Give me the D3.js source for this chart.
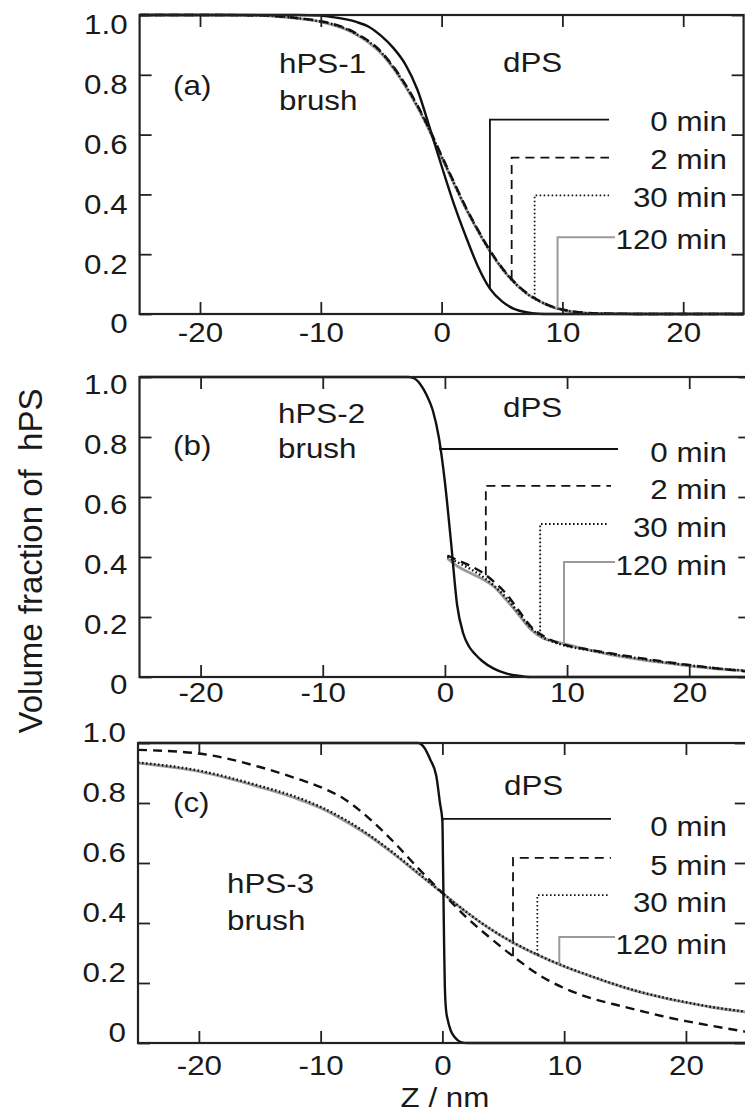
<!DOCTYPE html>
<html>
<head>
<meta charset="utf-8">
<script src="https://cdn.jsdelivr.net/npm/d3@7/dist/d3.min.js"></script>
<style>
  body { margin: 0; background: #fff; }
  text { font-family: "Liberation Sans", Arial, sans-serif; fill: #1a1a1a; }
</style>
</head>
<body>
<div id="chart"></div>
<script>
// ---- data ----
var zTicks = [-20, -10, 0, 10, 20];
var phiTicks = [0, 0.2, 0.4, 0.6, 0.8, 1.0];

// panel (a) hPS-1
var zA = [-25, -20, -15, -14, -12, -10, -9, -8, -7, -6, -5, -4, -3, -2, -1, 0, 1, 2, 3, 4, 5, 6, 7, 8, 9, 10, 11, 12, 14, 17, 20, 25];
var a0 = [1, 1, 1, 1, 1, 0.998, 0.993, 0.986, 0.976, 0.96, 0.93, 0.89, 0.835, 0.75, 0.625, 0.495, 0.37, 0.26, 0.16, 0.085, 0.042, 0.017, 0.006, 0.001, 0, 0, 0, 0, 0, 0, 0, 0];
var a2 = [1, 1, 0.999, 0.997, 0.99, 0.979, 0.97, 0.957, 0.937, 0.912, 0.877, 0.828, 0.768, 0.698, 0.618, 0.53, 0.443, 0.358, 0.282, 0.213, 0.155, 0.108, 0.072, 0.046, 0.027, 0.015, 0.008, 0.004, 0.001, 0, 0, 0];
var a30 = [1, 1, 0.999, 0.997, 0.99, 0.978, 0.969, 0.955, 0.935, 0.91, 0.875, 0.825, 0.765, 0.695, 0.615, 0.527, 0.44, 0.355, 0.28, 0.211, 0.153, 0.106, 0.07, 0.045, 0.026, 0.014, 0.007, 0.003, 0.001, 0, 0, 0];
var a120 = [1, 1, 0.999, 0.996, 0.989, 0.977, 0.967, 0.953, 0.933, 0.907, 0.872, 0.822, 0.762, 0.692, 0.612, 0.524, 0.438, 0.353, 0.278, 0.21, 0.152, 0.106, 0.07, 0.045, 0.026, 0.014, 0.007, 0.003, 0.001, 0, 0, 0];

// panel (b) hPS-2
var zB0 = [-25, -10, -3, -2.5, -2, -1.5, -1, -0.5, 0, 0.5, 1, 1.5, 2, 2.5, 3, 4, 5, 6, 7, 10, 25];
var b0 = [1, 1, 1, 0.995, 0.975, 0.94, 0.89, 0.8, 0.65, 0.45, 0.24, 0.145, 0.1, 0.075, 0.055, 0.028, 0.012, 0.004, 0, 0, 0];
var zB = [0.2, 1, 2, 3, 4, 5, 6, 7, 8, 9, 10, 12, 14, 16, 18, 20, 22, 25];
var b2 = [0.405, 0.39, 0.372, 0.35, 0.318, 0.278, 0.224, 0.17, 0.138, 0.118, 0.105, 0.09, 0.076, 0.063, 0.051, 0.04, 0.03, 0.017];
var b30 = [0.4, 0.383, 0.362, 0.337, 0.305, 0.265, 0.215, 0.165, 0.133, 0.115, 0.103, 0.088, 0.074, 0.061, 0.049, 0.039, 0.03, 0.02];
var b120 = [0.395, 0.37, 0.348, 0.328, 0.302, 0.258, 0.21, 0.16, 0.13, 0.118, 0.108, 0.088, 0.071, 0.058, 0.047, 0.037, 0.028, 0.02];

// panel (c) hPS-3
var zC0 = [-25, -10, -2, -1.5, -1, -0.5, -0.2, 0, 0.05, 0.1, 0.15, 0.2, 0.3, 0.45, 0.7, 1, 1.3, 1.6, 2, 25];
var c0 = [1, 1, 1, 0.985, 0.945, 0.89, 0.8, 0.74, 0.6, 0.45, 0.3, 0.19, 0.11, 0.075, 0.04, 0.02, 0.008, 0.002, 0, 0];
var zC = [-25, -20, -15, -12, -10, -8, -6, -4, -2, 0, 2, 4, 6, 8, 10, 12, 14, 16, 18, 20, 22, 25];
var c5 = [0.977, 0.965, 0.92, 0.882, 0.853, 0.812, 0.748, 0.67, 0.583, 0.5, 0.418, 0.348, 0.283, 0.225, 0.183, 0.152, 0.13, 0.11, 0.09, 0.073, 0.058, 0.037];
var c30 = [0.935, 0.908, 0.857, 0.82, 0.787, 0.745, 0.693, 0.633, 0.567, 0.5, 0.436, 0.379, 0.331, 0.291, 0.256, 0.226, 0.198, 0.173, 0.153, 0.136, 0.121, 0.104];
var c120 = [0.933, 0.905, 0.853, 0.815, 0.783, 0.74, 0.69, 0.63, 0.565, 0.5, 0.435, 0.378, 0.33, 0.29, 0.255, 0.225, 0.197, 0.172, 0.152, 0.135, 0.12, 0.103];

// legend labels, where each leader touches its curve (z) and legend row (phi)
var labelsAB = ["0 min", "2 min", "30 min", "120 min"];
var labelsC = ["0 min", "5 min", "30 min", "120 min"];
var anchorA = [4, 5.8, 7.7, 9.6], legendA = [0.65, 0.523, 0.397, 0.257];
var anchorB = [-0.4, 3.35, 7.8, 9.75], legendB = [0.76, 0.637, 0.51, 0.383];
var anchorC = [0, 5.8, 7.8, 9.6], legendC = [0.747, 0.617, 0.493, 0.353];

// ---- layout ----
var W = 745, H = 1113;
var STRETCH = 1.12; // the scan is a bit wider than tall
var styles = [
  { stroke: "#111", width: 2.4, dash: null },
  { stroke: "#111", width: 2.4, dash: "9,6" },
  { stroke: "#111", width: 2.4, dash: "1.6,2.4" },
  { stroke: "#9a9a9a", width: 2.8, dash: null }
];

var panels = [
  {
    id: "a", top: 15, bottom: 314, xr: [139.6, 743.6], yLabDy: 9, xLabDy: 18, legDy: 2,
    series: [[zA, a0], [zA, a2], [zA, a30], [zA, a120]],
    labels: labelsAB, anchor: anchorA, legend: legendA, leaderEnd: [609, 609, 609, 615],
    texts: [["(a)", 173, 85], ["hPS-1", 279, 63], ["brush", 279, 100], ["dPS", 503, 62]]
  },
  {
    id: "b", top: 377, bottom: 677, xr: [139.5, 750.3], yLabDy: 7, xLabDy: 15, legDy: 3,
    series: [[zB0, b0], [zB, b2], [zB, b30], [zB, b120]],
    labels: labelsAB, anchor: anchorB, legend: legendB, leaderEnd: [618, 611, 609, 615],
    texts: [["(b)", 173, 445], ["hPS-2", 278, 413], ["brush", 278, 448], ["dPS", 503, 407]]
  },
  {
    id: "c", top: 743, bottom: 1043, xr: [138, 746.8], yLabDy: -11, xLabDy: 22, legDy: 7,
    series: [[zC0, c0], [zC, c5], [zC, c30], [zC, c120]],
    labels: labelsC, anchor: anchorC, legend: legendC, leaderEnd: [611, 611, 609, 615],
    texts: [["(c)", 173, 802], ["hPS-3", 227, 883], ["brush", 227, 920], ["dPS", 504, 785]]
  }
];

function valueAt(zs, vs, z) {
  var i = d3.bisectLeft(zs, z);
  if (i <= 0) return vs[0];
  if (i >= zs.length) return vs[vs.length - 1];
  var t = (z - zs[i - 1]) / (zs[i] - zs[i - 1]);
  return vs[i - 1] + t * (vs[i] - vs[i - 1]);
}

function label(g, x, y, str, anchor, size) {
  return g.append("text")
    .attr("transform", "translate(" + x + "," + y + ") scale(" + STRETCH + ",1)")
    .attr("dy", "0.35em")
    .attr("text-anchor", anchor || "start")
    .style("font-size", (size || 28) + "px")
    .text(str);
}

var svg = d3.select("#chart").append("svg")
  .attr("width", W)
  .attr("height", H);

svg.append("rect").attr("width", W).attr("height", H).attr("fill", "#fff");

panels.forEach(function (p) {
  var x = d3.scaleLinear().domain([-25, 25]).range(p.xr);
  var y = d3.scaleLinear().domain([0, 1]).range([p.bottom, p.top]);
  var g = svg.append("g").attr("class", "panel-" + p.id);

  g.append("clipPath").attr("id", "clip-" + p.id)
    .append("rect")
    .attr("x", p.xr[0]).attr("y", p.top - 2)
    .attr("width", p.xr[1] - p.xr[0]).attr("height", p.bottom - p.top + 4);

  // curves: gray under, solid on top
  var line = d3.line()
    .x(function (d) { return x(d[0]); })
    .y(function (d) { return y(d[1]); })
    .curve(d3.curveMonotoneX);

  [3, 2, 1, 0].forEach(function (k) {
    var s = p.series[k], st = styles[k];
    var pts = s[0].map(function (z, i) { return [z, s[1][i]]; });
    g.append("path")
      .attr("clip-path", "url(#clip-" + p.id + ")")
      .attr("d", line(pts))
      .attr("fill", "none")
      .attr("stroke", st.stroke)
      .attr("stroke-width", st.width)
      .attr("stroke-dasharray", st.dash);
  });

  // leaders to the legend text
  [3, 2, 1, 0].forEach(function (k) {
    var s = p.series[k], st = styles[k];
    var za = p.anchor[k];
    var x0 = x(za), y0 = y(valueAt(s[0], s[1], za)), y1 = y(p.legend[k]);
    g.append("path")
      .attr("d", "M" + x0 + "," + y0 + "V" + y1 + "H" + p.leaderEnd[k])
      .attr("fill", "none")
      .attr("stroke", st.stroke)
      .attr("stroke-width", k == 3 ? 2 : 1.8)
      .attr("stroke-dasharray", st.dash);
    label(g, 727, y1 + p.legDy, p.labels[k], "end");
  });

  // frame
  g.append("rect")
    .attr("x", p.xr[0]).attr("y", p.top)
    .attr("width", p.xr[1] - p.xr[0]).attr("height", p.bottom - p.top)
    .attr("fill", "none").attr("stroke", "#222").attr("stroke-width", 2.2);

  // axes, ticks inward
  var left = g.append("g").attr("transform", "translate(" + p.xr[0] + ",0)")
    .call(d3.axisLeft(y).tickValues(phiTicks).tickSize(-12).tickPadding(12)
      .tickFormat(function (d) { return d === 0 ? "0" : d3.format(".1f")(d); }));
  left.selectAll("text")
    .attr("x", -12 / STRETCH)
    .attr("y", p.yLabDy)
    .attr("dy", "0.35em")
    .attr("transform", "scale(" + STRETCH + ",1)");

  g.append("g").attr("transform", "translate(" + p.xr[1] + ",0)")
    .call(d3.axisRight(y).tickValues(phiTicks).tickSize(-12).tickFormat(""));
  g.append("g").attr("transform", "translate(0," + p.top + ")")
    .call(d3.axisTop(x).tickValues(zTicks).tickSize(-12).tickFormat(""));
  var bottom = g.append("g").attr("transform", "translate(0," + p.bottom + ")")
    .call(d3.axisBottom(x).tickValues(zTicks).tickSize(-12)
      .tickFormat(function (d) { return String(d); }));
  bottom.selectAll("text")
    .attr("y", p.xLabDy)
    .attr("dy", "0.35em")
    .attr("transform", "scale(" + STRETCH + ",1)");

  g.selectAll(".domain").remove();
  g.selectAll(".tick line").attr("stroke", "#222").attr("stroke-width", 1.8);
  g.selectAll(".tick text")
    .style("font-size", "28px")
    .style("font-family", "'Liberation Sans', Arial, sans-serif")
    .attr("fill", "#1a1a1a");

  p.texts.forEach(function (t) { label(g, t[1], t[2], t[0], "start"); });
});

// axis titles
svg.append("text")
  .attr("transform", "translate(42,561) rotate(-90)")
  .attr("text-anchor", "middle")
  .style("font-size", "33px")
  .style("white-space", "pre")
  .text("Volume fraction of  hPS");

label(svg, 445, 1097, "Z / nm", "middle");
</script>
</body>
</html>
